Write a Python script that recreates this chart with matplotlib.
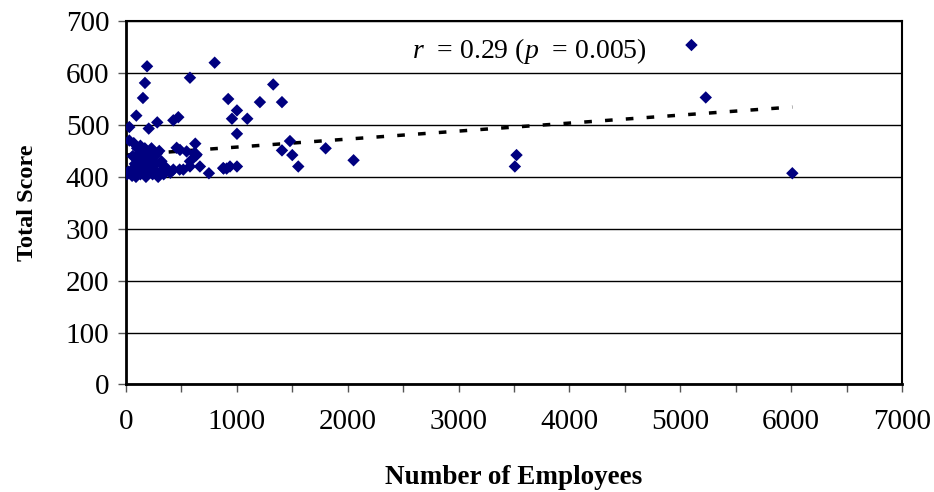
import numpy as np
import matplotlib.pyplot as plt
import matplotlib.ticker as ticker

# Number of employees vs. total score, one point per firm
employees = [
    190, 800, 171, 577, 153, 1328, 922, 1208, 1407, 1001,
    956, 1094, 93, 282, 427, 472, 30, 205, 1001, 1479,
    1407, 1500, 1554, 1801, 2053, 625, 616, 748, 880, 908,
    1001, 484, 3523, 3508, 5101, 5230, 6011,
    457, 487, 637, 667, 877, 938, 577, 517, 427, 577, 547, 631,
    10, 30, 40, 55, 60, 70, 80, 90, 100, 100,
    110, 120, 130, 140, 150, 160, 170, 180, 190, 200,
    210, 220, 230, 240, 250, 260, 270, 290, 300, 310,
    320, 340, 360, 380, 400, 60, 20, 130, 160, 280, 350,
]
total_score = [
    613, 620, 581, 591, 552, 578, 550, 544, 544, 528,
    512, 512, 518, 505, 509, 515, 496, 493, 483, 469,
    451, 442, 420, 455, 432, 464, 445, 407, 416, 416,
    420, 414, 442, 420, 654, 553, 407,
    456, 452, 443, 420, 417, 420, 420, 414, 414, 430, 449, 441,
    405, 470, 408, 402, 440, 465, 425, 400, 455, 410,
    430, 445, 405, 420, 435, 410, 455, 400, 425, 445,
    410, 430, 455, 405, 415, 440, 425, 400, 450, 410,
    430, 405, 415, 412, 408, 415, 410, 460, 440, 445, 420,
]

# linear trend line
trend_intercept = 442.0
trend_slope = 0.0154
trend_range = [min(employees), max(employees)]

x_ticks = [0, 1000, 2000, 3000, 4000, 5000, 6000, 7000]
y_ticks = [0, 100, 200, 300, 400, 500, 600, 700]

plt.rcParams["font.family"] = ["Liberation Serif", "DejaVu Serif"]
plt.rcParams["mathtext.fontset"] = "custom"
plt.rcParams["mathtext.rm"] = "Liberation Serif"
plt.rcParams["mathtext.it"] = "Liberation Serif:italic"

fig = plt.figure(figsize=(9.34, 4.92), dpi=100)
ax = fig.add_axes([0.1349, 0.2185, 0.8308, 0.7385])

ax.set_xlim(0, 7000)
ax.set_ylim(0, 700)
ax.set_xticks(x_ticks)
ax.set_yticks(y_ticks)
ax.xaxis.set_minor_locator(ticker.MultipleLocator(500))
ax.grid(axis="y", color="black", linewidth=1.0)
ax.set_axisbelow(True)

tx = np.array(trend_range)
ax.plot(tx, trend_intercept + trend_slope * tx, color="black", linewidth=2.5,
        linestyle=(0, (2.2, 3.8)), zorder=2)

ax.scatter(employees, total_score, marker="D", s=40, color="#000080",
           edgecolors="none", zorder=3)

ax.tick_params(axis="both", which="major", labelsize=21, direction="out",
               length=6, width=1.0, color="#555555", pad=12)
ax.tick_params(axis="x", which="minor", direction="out", length=6, width=1.0,
               color="#555555")
ax.tick_params(axis="y", pad=6)

for side in ["left", "bottom"]:
    ax.spines[side].set_linewidth(2.0)
for side in ["top", "right"]:
    ax.spines[side].set_linewidth(1.5)

ax.set_xlabel("Number of Employees", fontsize=19.5, fontweight="bold", labelpad=21)
ax.set_ylabel("Total Score", fontsize=17.5, fontweight="bold", labelpad=20)

ax.text(3640, 642, r"$r$  = 0.29 ($p$  = 0.005)", fontsize=20,
        ha="center", va="center")

fig.savefig("out.png", dpi=100)
